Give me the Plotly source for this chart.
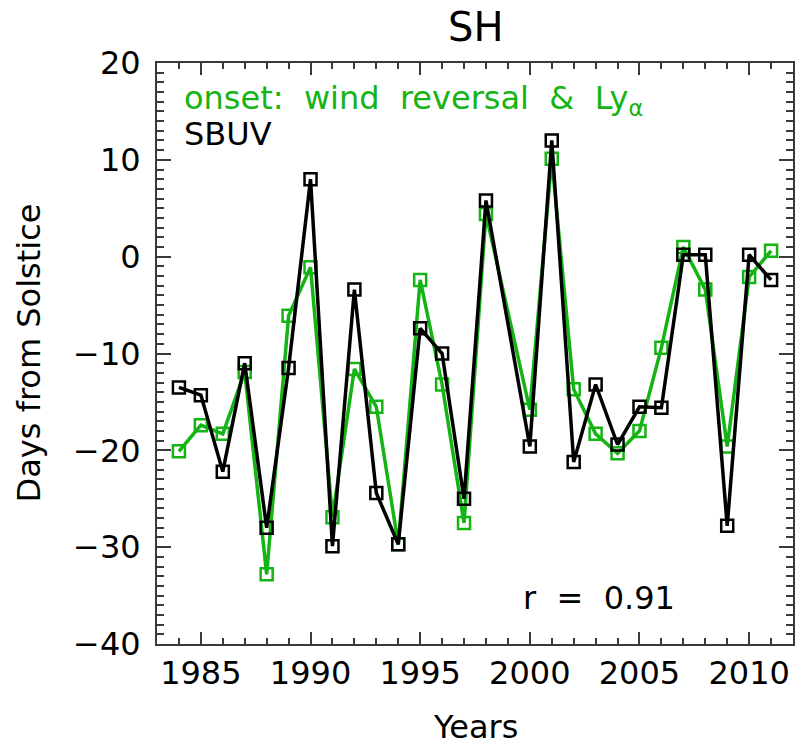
import plotly.graph_objects as go

years = [1984, 1985, 1986, 1987, 1988, 1989, 1990, 1991, 1992, 1993, 1994, 1995, 1996, 1997, 1998,
         2000, 2001, 2002, 2003, 2004, 2005, 2006, 2007, 2008, 2009, 2010, 2011]
onset_wind_lya = [-20.1, -17.4, -18.3, -11.9, -32.8, -6.1, -1.1, -26.9, -11.6, -15.5, -29.7, -2.4, -13.2, -27.5, 4.4,
                  -15.8, 10.1, -13.7, -18.3, -20.3, -18.0, -9.4, 1.0, -3.4, -19.6, -2.1, 0.6]
sbuv = [-13.5, -14.3, -22.2, -11.0, -28.0, -11.5, 8.0, -29.9, -3.4, -24.4, -29.7, -7.4, -10.0, -25.0, 5.8,
        -19.6, 12.0, -21.2, -13.2, -19.4, -15.5, -15.6, 0.2, 0.2, -27.8, 0.2, -2.4]

GREEN = "rgb(20,180,20)"
FONT = "DejaVu Sans"
AXC = "#3a3a3a"
NB = "\u00a0"

fig = go.Figure()
fig.add_trace(go.Scatter(x=years, y=onset_wind_lya, mode="lines+markers",
                         line=dict(color=GREEN, width=3.5),
                         marker=dict(symbol="square-open", size=12, color=GREEN, line=dict(width=2.5, color=GREEN)),
                         showlegend=False))
fig.add_trace(go.Scatter(x=years, y=sbuv, mode="lines+markers",
                         line=dict(color="black", width=3.5),
                         marker=dict(symbol="square-open", size=12, color="black", line=dict(width=2.5, color="black")),
                         showlegend=False))

axis_common = dict(showgrid=False, zeroline=False, showline=True, linecolor=AXC, linewidth=2,
                   mirror="ticks", ticks="inside", tickcolor=AXC, tickwidth=1.5,
                   tickfont=dict(family=FONT, size=32, color="black"))

fig.update_xaxes(range=[1983, 2012], tick0=1985, dtick=5, ticklen=12,
                 minor=dict(dtick=1, ticklen=6, ticks="inside", tickcolor=AXC, tickwidth=1.5),
                 **axis_common)
fig.update_yaxes(range=[-40, 20], tick0=0, dtick=10, ticklen=14,
                 minor=dict(dtick=1, ticklen=7, ticks="inside", tickcolor=AXC, tickwidth=1.5),
                 ticklabelstandoff=8,
                 **axis_common)

L, R, T, B = 157, 3, 63, 102
W, H = 798, 746
pw, ph = W - L - R, H - T - B

def px(x):
    return (x - L) / pw

def py(y):
    return (H - B - y) / ph

legend_green = ("onset:" + NB * 2 + "wind" + NB * 2 + "reversal" + NB * 2 + "&" + NB * 2 + "Ly<sub>α</sub>")

annotations = [
    dict(text="SH", x=px(476), y=py(27), xanchor="center", yanchor="middle",
         font=dict(family=FONT, size=40, color="black")),
    dict(text="Years", x=px(476), y=py(727), xanchor="center", yanchor="middle",
         font=dict(family=FONT, size=32, color="black")),
    dict(text="Days from Solstice", x=px(29), y=py(353), xanchor="center", yanchor="middle",
         textangle=-90, font=dict(family=FONT, size=32, color="black")),
    dict(text=legend_green, x=px(182), y=py(77), xanchor="left", yanchor="top",
         font=dict(family=FONT, size=32, color=GREEN)),
    dict(text="SBUV", x=px(182), y=py(133.5), xanchor="left", yanchor="middle",
         font=dict(family=FONT, size=32, color="black")),
    dict(text="r" + NB * 2 + "=" + NB * 2 + "0.91", x=px(600), y=py(598), xanchor="center", yanchor="middle",
         font=dict(family=FONT, size=32, color="black")),
]
for a in annotations:
    a.update(xref="paper", yref="paper", showarrow=False)

fig.update_layout(width=W, height=H, margin=dict(l=L, r=R, t=T, b=B),
                  plot_bgcolor="white", paper_bgcolor="white",
                  annotations=annotations)

fig.write_html("out.html")
